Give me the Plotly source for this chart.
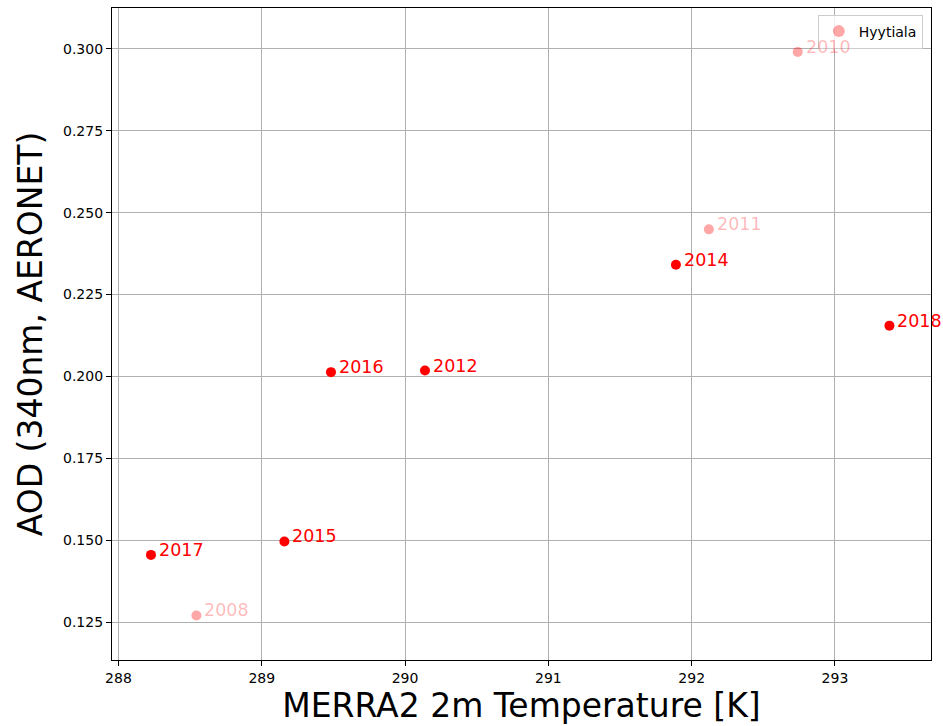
import plotly.graph_objects as go

# Light (labelled "Hyytiala") series
years_a = ["2008", "2010", "2011"]
temp_a = [288.544, 292.74, 292.12]
aod_a = [0.1270, 0.2991, 0.2449]

# Dark red series
years_b = ["2012", "2014", "2015", "2016", "2017", "2018"]
temp_b = [290.139, 291.89, 289.158, 289.483, 288.227, 293.38]
aod_b = [0.2018, 0.2341, 0.1496, 0.2013, 0.1455, 0.2155]

x_ticks = [288, 289, 290, 291, 292, 293]
y_ticks = [0.125, 0.150, 0.175, 0.200, 0.225, 0.250, 0.275, 0.300]
y_tick_text = ["0.125", "0.150", "0.175", "0.200", "0.225", "0.250", "0.275", "0.300"]

fig = go.Figure()
fig.add_trace(go.Scatter(
    x=temp_a, y=aod_a, mode="markers", name="Hyytiala",
    marker=dict(color="rgba(255,0,0,0.35)", size=10),
))
fig.add_trace(go.Scatter(
    x=temp_b, y=aod_b, mode="markers", showlegend=False,
    marker=dict(color="#ff0000", size=10),
))

for xv, yv, t in zip(temp_a, aod_a, years_a):
    fig.add_annotation(x=xv, y=yv, text=t, showarrow=False, xanchor="left",
                       yanchor="middle", xshift=6, yshift=5,
                       font=dict(color="rgba(255,0,0,0.28)", size=17.5, family="DejaVu Sans"))
for xv, yv, t in zip(temp_b, aod_b, years_b):
    fig.add_annotation(x=xv, y=yv, text=t, showarrow=False, xanchor="left",
                       yanchor="middle", xshift=6, yshift=5,
                       font=dict(color="#ff0000", size=17.5, family="DejaVu Sans"))

axis_common = dict(
    showline=True, linecolor="black", linewidth=1.2, mirror=True,
    ticks="outside", ticklen=5, tickcolor="black",
    showgrid=True, gridcolor="#b0b0b0", gridwidth=1, zeroline=False,
    tickfont=dict(family="DejaVu Sans", size=14, color="black"),
    automargin=False,
)

fig.update_layout(
    width=943, height=726,
    margin=dict(l=112, r=12, t=8, b=66),
    paper_bgcolor="white", plot_bgcolor="white",
    font=dict(family="DejaVu Sans"),
    xaxis=dict(range=[287.955, 293.67], tickvals=x_ticks,
               title=dict(text="MERRA2 2m Temperature [K]", font=dict(size=33, color="black"), standoff=6),
               **axis_common),
    yaxis=dict(range=[0.1134, 0.3125], tickvals=y_ticks, ticktext=y_tick_text,
               title=dict(text="AOD (340nm, AERONET)", font=dict(size=33, color="black"), standoff=10),
               **axis_common),
    legend=dict(x=0.99, y=0.99, xanchor="right", yanchor="top",
                bgcolor="rgba(255,255,255,0.8)", bordercolor="#cccccc", borderwidth=1,
                font=dict(size=14, color="black"), tracegroupgap=0,
                itemsizing="constant"),
)

# Remove the default page margin so the figure fills the window exactly.
fig.write_html(
    "out.html",
    config={"displayModeBar": False},
    post_script="document.body.style.margin='0';document.body.style.overflow='hidden';",
)
